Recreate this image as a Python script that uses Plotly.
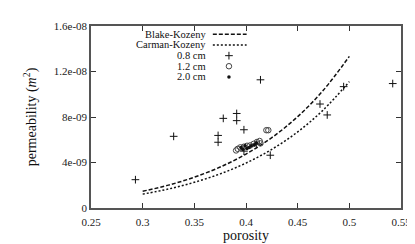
import plotly.graph_objects as go

# Model curves
model_eps = [0.30, 0.325, 0.35, 0.375, 0.40, 0.425, 0.45, 0.475, 0.50]
blake_k = [1.47e-9, 2.01e-9, 2.71e-9, 3.60e-9, 4.74e-9, 6.19e-9, 8.03e-9, 1.037e-8, 1.333e-8]
carman_k = [1.22e-9, 1.67e-9, 2.26e-9, 3.00e-9, 3.95e-9, 5.16e-9, 6.69e-9, 8.64e-9, 1.111e-8]

# 0.8 cm
eps_08 = [0.293, 0.330, 0.373, 0.373, 0.378, 0.391, 0.391, 0.398, 0.414, 0.4235,
          0.4716, 0.4786, 0.4945, 0.542, 0.398, 0.410]
k_08 = [2.49e-9, 6.30e-9, 6.38e-9, 5.78e-9, 7.88e-9, 8.31e-9, 7.68e-9, 6.88e-9, 1.127e-8, 4.64e-9,
        9.14e-9, 8.18e-9, 1.067e-8, 1.094e-8, 5.00e-9, 5.60e-9]
# 1.2 cm
eps_12 = [0.3904, 0.392, 0.3945, 0.398, 0.401, 0.404, 0.4074, 0.4106, 0.4132, 0.414, 0.4197, 0.4216]
k_12 = [5.06e-9, 5.20e-9, 5.33e-9, 5.39e-9, 5.47e-9, 5.50e-9, 5.64e-9, 5.80e-9, 5.89e-9, 5.68e-9,
        6.84e-9, 6.84e-9]
# 2.0 cm
eps_20 = [0.3952, 0.397, 0.399, 0.401, 0.403, 0.405, 0.408, 0.410]
k_20 = [5.31e-9, 5.14e-9, 5.47e-9, 5.22e-9, 5.31e-9, 5.47e-9, 5.55e-9, 5.72e-9]

x_ticks = [0.25, 0.3, 0.35, 0.4, 0.45, 0.5, 0.55]
x_tick_text = ["0.25", "0.3", "0.35", "0.4", "0.45", "0.5", "0.55"]
y_ticks = [0, 4e-9, 8e-9, 1.2e-8, 1.6e-8]
y_tick_text = ["0", "4e-09", "8e-09", "1.2e-08", "1.6e-08"]

legend_labels = ["Blake-Kozeny", "Carman-Kozeny", "0.8 cm", "1.2 cm", "2.0 cm"]

FONT = "Liberation Serif"
INK = "#111111"
TICKFONT = dict(family=FONT, size=11, color="#222")

fig = go.Figure()
fig.add_trace(go.Scatter(x=model_eps, y=blake_k, mode="lines", line_shape="spline",
                         line=dict(color=INK, width=1.5, dash="4px,2px")))
fig.add_trace(go.Scatter(x=model_eps, y=carman_k, mode="lines", line_shape="spline",
                         line=dict(color=INK, width=1.5, dash="2px,2px")))
fig.add_trace(go.Scatter(x=eps_08, y=k_08, mode="markers",
                         marker=dict(symbol="cross-thin", size=5.5, line=dict(color=INK, width=1))))
fig.add_trace(go.Scatter(x=eps_12, y=k_12, mode="markers",
                         marker=dict(symbol="circle-open", size=5.5, color="#444", line=dict(width=1))))
fig.add_trace(go.Scatter(x=eps_20, y=k_20, mode="markers",
                         marker=dict(symbol="circle", size=3.5, color=INK)))

# custom legend (text right-aligned, sample to the right)
rows_y = [0.955, 0.896, 0.837, 0.779, 0.720]
for lab, yy in zip(legend_labels, rows_y):
    fig.add_annotation(x=0.374, y=yy, xref="paper", yref="paper", text=lab, showarrow=False,
                       xanchor="right", yanchor="middle", borderpad=0,
                       font=dict(family=FONT, size=10.5, color=INK))
fig.add_shape(type="line", xref="paper", yref="paper", x0=0.393, x1=0.502, y0=rows_y[0], y1=rows_y[0],
              line=dict(color=INK, width=1.5, dash="4px,2px"))
fig.add_shape(type="line", xref="paper", yref="paper", x0=0.393, x1=0.502, y0=rows_y[1], y1=rows_y[1],
              line=dict(color=INK, width=1.5, dash="2px,2px"))
fig.add_trace(go.Scatter(x=[0.445], y=[rows_y[2]], xaxis="x2", yaxis="y2", mode="markers",
                         marker=dict(symbol="cross-thin", size=5.5, line=dict(color=INK, width=1))))
fig.add_trace(go.Scatter(x=[0.445], y=[rows_y[3]], xaxis="x2", yaxis="y2", mode="markers",
                         marker=dict(symbol="circle-open", size=5.5, color="#444", line=dict(width=1))))
fig.add_trace(go.Scatter(x=[0.445], y=[rows_y[4]], xaxis="x2", yaxis="y2", mode="markers",
                         marker=dict(symbol="circle", size=3.5, color=INK)))

fig.update_layout(
    width=415, height=244, showlegend=False,
    margin=dict(l=83, r=19, t=14, b=37),
    paper_bgcolor="white", plot_bgcolor="white",
    font=dict(family=FONT, size=11, color=INK),
    xaxis=dict(range=[0.25, 0.55], tickvals=x_ticks, ticktext=x_tick_text, tickfont=TICKFONT,
               showgrid=False, zeroline=False, showline=True, linecolor="#555", linewidth=1.5,
               mirror="ticks", ticks="inside", ticklen=5, tickcolor="#333", ticklabelstandoff=3,
               title=dict(text="porosity", font=dict(family=FONT, size=14, color=INK), standoff=2)),
    yaxis=dict(range=[0, 1.6e-8], tickvals=y_ticks, ticktext=y_tick_text, tickfont=TICKFONT,
               showgrid=False, zeroline=False, showline=True, linecolor="#555", linewidth=1.5,
               mirror="ticks", ticks="inside", ticklen=5, tickcolor="#333",
               title=dict(text="permeability (<i>m</i><sup>2</sup>)",
                          font=dict(family=FONT, size=14, color=INK), standoff=14)),
    xaxis2=dict(range=[0, 1], overlaying="x", visible=False),
    yaxis2=dict(range=[0, 1], overlaying="y", visible=False),
)

fig.write_html("out.html")
